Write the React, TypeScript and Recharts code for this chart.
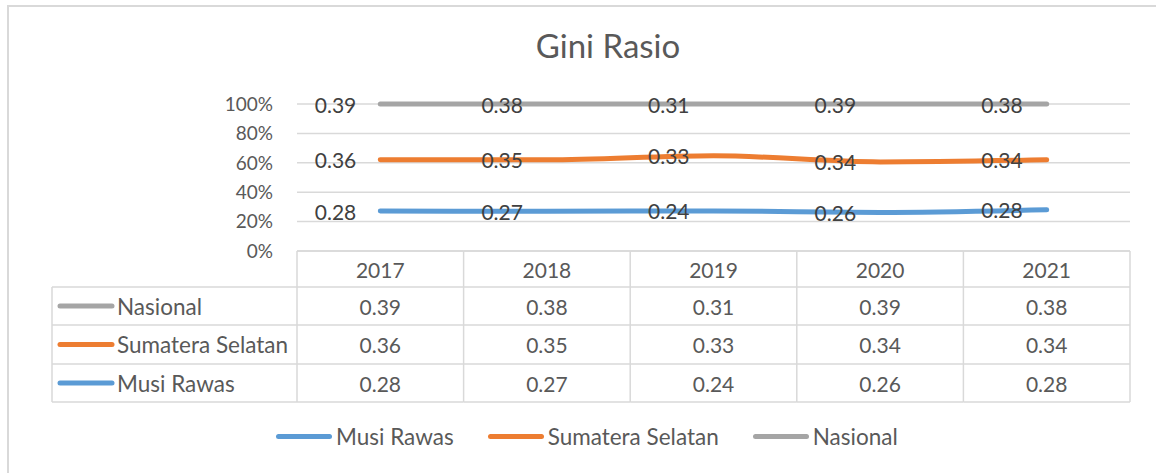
import { AreaChart, Area, XAxis, YAxis, CartesianGrid, LabelList, Legend } from 'recharts';

const years = ['2017', '2018', '2019', '2020', '2021'];
const musiRawas = [0.28, 0.27, 0.24, 0.26, 0.28];
const sumateraSelatan = [0.36, 0.35, 0.33, 0.34, 0.34];
const nasional = [0.39, 0.38, 0.31, 0.39, 0.38];
const percentTicks = [0, 0.2, 0.4, 0.6, 0.8, 1];

const series = [
  { key: 'musiRawas', name: 'Musi Rawas', color: '#5B9BD5', values: musiRawas },
  { key: 'sumateraSelatan', name: 'Sumatera Selatan', color: '#ED7D31', values: sumateraSelatan },
  { key: 'nasional', name: 'Nasional', color: '#A5A5A5', values: nasional },
];
// data table lists series top-down in reverse order
const tableRows = [series[2], series[1], series[0]];

const data = years.map((year, i) => ({
  year,
  musiRawas: musiRawas[i],
  sumateraSelatan: sumateraSelatan[i],
  nasional: nasional[i],
}));

const WIDTH = 1156;
const HEIGHT = 473;
const PLOT_LEFT = 297;
const PLOT_RIGHT = 1130;
const PLOT_TOP = 104;
const PLOT_BOTTOM = 251;
const Y_AXIS_W = 60;
const COL_W = (PLOT_RIGHT - PLOT_LEFT) / years.length;
const TABLE_LEFT = 52;
const ROW_LINES = [PLOT_BOTTOM, 287, 325, 364, 402];

const FONT = 'Lato, "Open Sans", sans-serif';
const TEXT = '#595959';
const GRID = '#D9D9D9';

function TableTick(props: any) {
  const { x, payload } = props;
  const i = years.indexOf(payload.value);
  const left = x - COL_W / 2;
  const right = x + COL_W / 2;
  const mid = (r: number) => (ROW_LINES[r] + ROW_LINES[r + 1]) / 2;
  return (
    <g fontFamily={FONT} fontSize={21} fill={TEXT}>
      {ROW_LINES.map((y) => (
        <line key={y} x1={left} x2={right} y1={y} y2={y} stroke={GRID} strokeWidth={1.5} />
      ))}
      <line x1={left} x2={left} y1={ROW_LINES[0]} y2={ROW_LINES[4]} stroke={GRID} strokeWidth={1.5} />
      {i === years.length - 1 && (
        <line x1={right} x2={right} y1={ROW_LINES[0]} y2={ROW_LINES[4]} stroke={GRID} strokeWidth={1.5} />
      )}
      <text x={x} y={mid(0)} textAnchor="middle" dominantBaseline="central">
        {years[i]}
      </text>
      {tableRows.map((s, r) => (
        <text key={s.key} x={x} y={mid(r + 1)} textAnchor="middle" dominantBaseline="central">
          {s.values[i].toFixed(2)}
        </text>
      ))}
      {i === 0 && (
        <g>
          {ROW_LINES.slice(1).map((y) => (
            <line key={y} x1={TABLE_LEFT} x2={left} y1={y} y2={y} stroke={GRID} strokeWidth={1.5} />
          ))}
          <line x1={TABLE_LEFT} x2={TABLE_LEFT} y1={ROW_LINES[1]} y2={ROW_LINES[4]} stroke={GRID} strokeWidth={1.5} />
          {tableRows.map((s, r) => (
            <g key={s.key}>
              <line x1={60} x2={112} y1={mid(r + 1)} y2={mid(r + 1)} stroke={s.color} strokeWidth={5} strokeLinecap="round" />
              <text x={117} y={mid(r + 1)} dominantBaseline="central" fontSize={22.5}>
                {s.name}
              </text>
            </g>
          ))}
        </g>
      )}
    </g>
  );
}

const makeLabel = (values: number[]) => (props: any) => {
  const { x, y, index } = props;
  return (
    <text
      x={x - 24}
      y={y}
      textAnchor="end"
      dominantBaseline="central"
      fontFamily={FONT}
      fontSize={21}
      fill="#404040"
    >
      {values[index].toFixed(2)}
    </text>
  );
};

function LegendContent() {
  return (
    <div style={{ display: 'flex', alignItems: 'center', fontFamily: FONT, fontSize: 22.5, color: TEXT }}>
      {series.map((s) => (
        <div key={s.key} style={{ display: 'flex', alignItems: 'center', marginRight: 34 }}>
          <div style={{ width: 56, height: 5, borderRadius: 3, background: s.color, marginRight: 4 }} />
          <span>{s.name}</span>
        </div>
      ))}
    </div>
  );
}

export default function App() {
  return (
    <div style={{ position: 'absolute', left: 0, top: 0, width: WIDTH, height: HEIGHT, background: '#fff', overflow: 'hidden' }}>
      <div
        style={{
          position: 'absolute',
          left: 7,
          top: 5,
          width: WIDTH,
          height: HEIGHT,
          borderLeft: `2px solid ${GRID}`,
          borderTop: `2px solid ${GRID}`,
        }}
      />
      <div
        style={{
          position: 'absolute',
          left: 0,
          top: 25,
          width: 1216,
          textAlign: 'center',
          fontFamily: FONT,
          fontSize: 33,
          color: TEXT,
        }}
      >
        Gini Rasio
      </div>
      <AreaChart
        width={WIDTH}
        height={HEIGHT}
        data={data}
        stackOffset="expand"
        margin={{ top: PLOT_TOP, right: WIDTH - PLOT_RIGHT, left: PLOT_LEFT - Y_AXIS_W, bottom: 72 }}
      >
        <CartesianGrid horizontal vertical={false} stroke={GRID} strokeWidth={1.5} />
        <XAxis
          dataKey="year"
          height={HEIGHT - PLOT_BOTTOM - 72}
          padding={{ left: COL_W / 2, right: COL_W / 2 }}
          axisLine={false}
          tickLine={false}
          interval={0}
          tick={<TableTick />}
        />
        <YAxis
          width={Y_AXIS_W}
          domain={[0, 1]}
          ticks={percentTicks}
          tickFormatter={(v: number) => `${Math.round(v * 100)}%`}
          axisLine={false}
          tickLine={false}
          tickSize={0}
          tickMargin={24}
          tick={{ fill: TEXT, fontSize: 19, fontFamily: FONT }}
        />
        {series.map((s) => (
          <Area
            key={s.key}
            type="monotone"
            dataKey={s.key}
            name={s.name}
            stackId="1"
            stroke={s.color}
            strokeWidth={5}
            strokeLinecap="round"
            fill="none"
            dot={false}
            activeDot={false}
            isAnimationActive={false}
          >
            <LabelList content={makeLabel(s.values)} />
          </Area>
        ))}
        <Legend
          layout="horizontal"
          verticalAlign="middle"
          align="center"
          wrapperStyle={{ top: 423, left: 276, width: 'auto' }}
          content={<LegendContent />}
        />
      </AreaChart>
    </div>
  );
}
